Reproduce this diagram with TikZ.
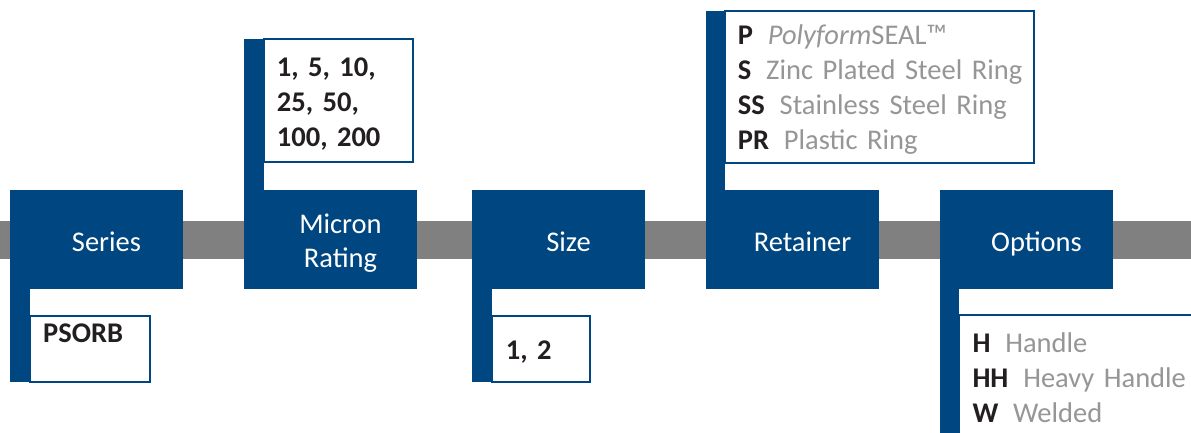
\documentclass[tikz,border=0pt]{standalone}
\usepackage{fontspec}
\setmainfont{Carlito}
\usetikzlibrary{positioning, calc}

\definecolor{pallblue}{RGB}{0,70,128}
\definecolor{bandgray}{RGB}{128,128,128}
\definecolor{codeblack}{RGB}{35,31,32}
\definecolor{descgray}{RGB}{150,150,150}

% code letter in bold, description in gray
\newcommand{\codeline}[2]{\textbf{#1}\hspace{0.52em}{\color{descgray}#2}}

\begin{document}
\begin{tikzpicture}[x=1pt, y=1pt,
  stage/.style={fill=pallblue, minimum width=173pt, minimum height=99pt, inner sep=0pt, outer sep=0pt, anchor=north west},
  stagetext/.style={text=white, anchor=base, inner sep=0pt, text width=150pt, align=center, font=\fontsize{28.5}{34.5}\selectfont},
  infobox/.style={draw=pallblue, line width=1.5pt, fill=white, inner sep=0pt, outer sep=0pt, anchor=north west},
  infotext/.style={text=codeblack, anchor=base west, inner sep=0pt, text width=300pt, align=left, font=\fontsize{28.5}{35}\selectfont}]

  \useasboundingbox (0,0) rectangle (1191,432);
  \clip (0,0) rectangle (1191,432);

  % Gray band behind the stages
  \fill[bandgray] (0,173) rectangle (1191,211);

  % Stage boxes along the band
  \node[stage] (series) at (10,242) {};
  \node[stage] (micron) at (244,242) {};
  \node[stage] (size) at (472,242) {};
  \node[stage] (retainer) at (706,242) {};
  \node[stage] (options) at (940,242) {};

  \node[stagetext] (serieslabel) at ($(series.north west)+(96.5,-61)$) {Series};
  \node[stagetext] (micronlabel) at ($(micron.north west)+(96.5,-43)$) {Micron\\Rating};
  \node[stagetext] (sizelabel) at ($(size.north west)+(96.5,-61)$) {Size};
  \node[stagetext] (retainerlabel) at ($(retainer.north west)+(96.5,-61)$) {Retainer};
  \node[stagetext] (optionslabel) at ($(options.north west)+(96.5,-61)$) {Options};

  % Info boxes above or below each stage
  \node[infobox, minimum width=120pt, minimum height=66pt] (seriesinfo) at (30,116) {};
  \node[infobox, minimum width=149pt, minimum height=123pt] (microninfo) at (264,393) {};
  \node[infobox, minimum width=98pt, minimum height=66pt] (sizeinfo) at (492,116) {};
  \node[infobox, minimum width=309pt, minimum height=152pt] (retainerinfo) at (725,421) {};
  \node[infobox, minimum width=300pt, minimum height=200pt] (optionsinfo) at (959,117) {};

  % Bars joining each stage to its info box
  \fill[pallblue] (series.north west) rectangle (seriesinfo.south west);
  \fill[pallblue] (micron.south west) rectangle (microninfo.north west);
  \fill[pallblue] (size.north west) rectangle (sizeinfo.south west);
  \fill[pallblue] (retainer.south west) rectangle (retainerinfo.north west);
  \fill[pallblue] (options.north west) rectangle (optionsinfo.south west);

  % Texts in the info boxes
  \node[infotext] (seriescodes) at ($(seriesinfo.north west)+(13,-26)$) {\textbf{PSORB}};
  \node[infotext] (microncodes) at ($(microninfo.north west)+(12.7,-37.7)$) {\bfseries 1, 5, 10,\\25, 50,\\100, 200};
  \node[infotext] (sizecodes) at ($(sizeinfo.north west)+(13.7,-43)$) {\textbf{1, 2}};
  \node[infotext] (retainercodes) at ($(retainerinfo.north west)+(12.7,-34)$) {%
    \codeline{P}{\textit{Polyform}SEAL™}\\
    \codeline{S}{Zinc Plated Steel Ring}\\
    \codeline{SS}{Stainless Steel Ring}\\
    \codeline{PR}{Plastic Ring}};
  \node[infotext] (optionscodes) at ($(optionsinfo.north west)+(13.3,-37.3)$) {%
    \codeline{H}{Handle}\\
    \codeline{HH}{Heavy Handle}\\
    \codeline{W}{Welded}};

\end{tikzpicture}
\end{document}
